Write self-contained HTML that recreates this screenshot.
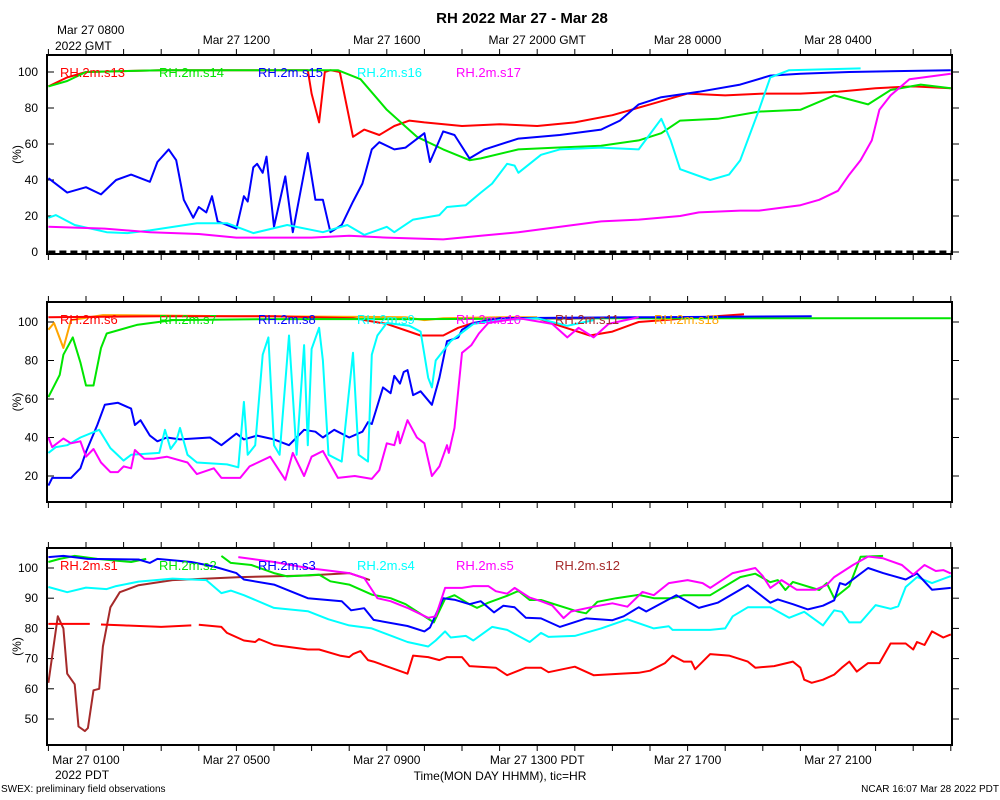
<!DOCTYPE html>
<html><head><meta charset="utf-8"><style>
html,body{margin:0;padding:0;background:#fff;}
svg{display:block;font-family:"Liberation Sans",sans-serif;}
</style></head><body>
<svg id="chart" width="1000" height="800" viewBox="0 0 1000 800">
<text x="522" y="23" text-anchor="middle" font-size="15" font-weight="bold">RH 2022 Mar 27 - Mar 28</text>
<text x="57" y="34" font-size="12">Mar 27 0800</text>
<text x="55" y="50" font-size="12">2022 GMT</text>
<text x="55" y="779" font-size="12">2022 PDT</text>
<text x="500" y="780" text-anchor="middle" font-size="12">Time(MON DAY HHMM), tic=HR</text>
<text x="1" y="792" font-size="10">SWEX: preliminary field observations</text>
<text x="999" y="792" font-size="10" text-anchor="end">NCAR 16:07 Mar 28 2022 PDT</text>
</svg>
<script>
// ---- data (t = hours since Mar 27 0700 GMT, v = RH %) ----
const topTickLabels = ["Mar 27 1200","Mar 27 1600","Mar 27 2000 GMT","Mar 28 0000","Mar 28 0400"];
const topTickHours = [5,9,13,17,21];
const bottomTickLabels = ["Mar 27 0100","Mar 27 0500","Mar 27 0900","Mar 27 1300 PDT","Mar 27 1700","Mar 27 2100"];
const bottomTickHours = [1,5,9,13,17,21];
const p1Ticks = [0,20,40,60,80,100];
const p2Ticks = [20,40,60,80,100];
const p3Ticks = [50,60,70,80,90,100];

// Panel 1
const s13T = [0,0.5,1,3,5,6.9,7.0,7.2,7.35,7.5,7.75,8.1,8.4,8.8,9.2,9.6,10,11,12,13,14,15,16,17,18,19,20,21,22,23,24];
const s13V = [92,97,100,101,101,101,88,72,100,101,100,64,68,65,70,73,72,70,71,70,72,76,82,88,87,88,88,89,91,92,91];
const s14T = [0,0.5,1,3,5,7,7.7,8.3,9,9.8,10.5,11.2,11.5,12.5,13.5,14.7,15.7,16.3,16.8,17.8,18.9,20,20.9,21.8,22.4,23.2,24];
const s14V = [92,95,100,101,101,101,101,96,79,64,57,51,52,57,58,59,62,66,73,74,78,79,87,82,90,93,91];
const s15T = [0,0.5,1,1.4,1.8,2.2,2.7,2.9,3.2,3.4,3.6,3.85,4.0,4.2,4.35,4.5,5.0,5.2,5.3,5.45,5.55,5.7,5.8,6.0,6.3,6.5,6.9,7.1,7.3,7.5,7.8,8.1,8.35,8.6,8.8,9.2,9.5,10,10.15,10.5,10.8,11.2,11.6,12.5,13.6,14.7,15.2,15.7,16.3,17.3,18.4,19.2,20,21.3,24];
const s15V = [41,33,36,32,40,43,39,50,57,51,29,19,25,22,31,17,13,31,28,47,49,44,53,14,42,11,55,29,29,11,15,28,38,57,61,57,58,66,50,67,65,52,57,63,65,68,73,82,86,89,93,98,99,100,101];
const s16T = [0,0.2,0.7,1.55,2.1,2.7,3.95,4.75,5.45,6.35,7.3,7.95,8.4,9,9.2,9.7,10.4,10.6,11.1,11.5,11.8,12.2,12.4,12.5,13.1,13.6,14.7,15.7,16.3,16.55,16.8,17.6,18.1,18.4,18.9,19.2,19.7,21.6];
const s16V = [19,20.5,15,11,10.5,12,16,16,10.5,15,11,15,9.5,14,11,18,20.5,25,26,33,38,49,48,44,54,57,58,57,74,62,46,40,43,51,79,97,101,102];
const s17T = [0,1.5,2.7,4,5,7,8,9,10.5,11.5,12.5,14.7,15.7,16.8,17.3,18.4,18.9,20,20.5,21,21.3,21.6,21.9,22.1,22.4,22.9,24];
const s17V = [14,13,11,10,8,8,9,8,7,9,11,17,18,20,22,23,23,26,29,34,43,51,62,79,87,96,99];
const refZeroT = [0,24];
const refZeroV = [0,0];

// Panel 2
const s6T = [0,3,6,8.1,9,9.9,10.5,10.9,11.3,12,13,13.6,14.4,15,15.7,17,18.5];
const s6V = [102.5,103,103,102,99,93,93,97,99.5,101,102,98,93,95,100,102,104];
const s7T = [0,0.3,0.4,0.65,0.85,1.0,1.2,1.4,1.55,2.35,3.3,6,10,15,24];
const s7V = [61,72.5,83,92,79,67,67,86.5,94,98.5,101,101.5,101.5,102,102];
const s8T = [0,0.1,0.6,0.85,1.0,1.3,1.5,1.85,2.2,2.3,2.45,2.7,2.9,3.15,3.5,4.3,4.6,5.0,5.2,5.55,6,6.4,6.8,7.1,7.3,7.6,8.0,8.35,8.5,8.6,8.9,9.1,9.2,9.35,9.45,9.55,9.7,9.9,10.2,10.4,10.6,10.9,11.0,11.3,12,16,20.3];
const s8V = [15,19,19,24,32.5,46.5,57,58,55,46.5,49,41,38,40,39,40,36,42,39,41,39,36,44,43,40,44,40,43,48,47,66,63,72,68,74,75,62,64,57,71,90,92,96,99.5,102,102.5,103];
const s9T = [0,0.2,0.5,0.85,1.35,1.65,2.0,2.2,2.95,3.1,3.25,3.4,3.5,3.7,3.95,4.75,5.05,5.2,5.3,5.5,5.7,5.85,6.0,6.15,6.4,6.6,6.8,6.9,7.0,7.2,7.3,7.45,7.8,8.1,8.25,8.5,8.6,8.75,9.0,9.6,9.9,10.1,10.2,10.3,10.7,11.3,12,13,13.8,14.5];
const s9V = [32,35,36,40,44,34.5,28,31,32,44,34,38,45,31,27,26,24.5,58.5,31,36,83,92,36,31,93,31,88,36,86,97,80,31,27.5,84,31,27.5,83,93,99.5,98,95,71,66,80,90,99,101,102,98,101];
const s10T = [0,0.1,0.4,0.6,0.85,1.0,1.2,1.4,1.65,1.85,2.0,2.2,2.3,2.55,2.8,3.15,3.7,3.95,4.4,4.6,5.1,5.35,5.9,6.3,6.5,6.8,7.0,7.3,7.7,8.15,8.6,8.8,9.0,9.2,9.3,9.35,9.55,9.8,10.0,10.2,10.4,10.6,10.65,10.8,11.0,11.25,11.45,11.7,12.5,13.4,13.8,14.1,14.5,14.9,15.7];
const s10V = [40,35,39.5,37,38,30,34,27,22,22,25,24,33.5,29,29,30,27,21,24,19,19,25,30,18,32,20,30,33,19,20,18.5,23,37,36,43,37,49,40,37,20,25,36,32,45,84,88,94,99.5,102,99,92,97,92,99,102.5];
const s11T = [12,13,14.5];
const s11V = [102,102,102];
const s18T = [0,0.15,0.4,0.6,1.45,5,9.5,10,10.5,12,13];
const s18V = [96,99.5,86.5,101,103.6,103,102.5,101,102,102.5,102.5];

// Panel 3
const s1T = [0,1.1,1.1,1.4,2,3,3.8,3.8,4.0,4.6,4.75,5.2,5.5,5.6,6,6.9,7.2,7.75,8.0,8.1,8.3,8.5,8.65,9.1,9.55,9.7,10.1,10.4,10.6,11.0,11.2,11.9,12.2,12.7,13.1,13.3,14.0,14.5,15.2,15.7,16.0,16.4,16.6,16.9,17.1,17.2,17.6,18.1,18.6,18.8,19.3,19.8,20,20.1,20.3,20.6,20.9,21.1,21.3,21.5,21.8,22.1,22.4,22.8,23,23.1,23.3,23.5,23.8,24];
const s1V = [81.5,81.5,null,81.3,81,80.5,81,null,81.2,80.5,78.5,76,75.5,76.5,74.5,73,73,71,70.5,71.5,72.5,69.5,69,67,65,71,70.5,69.5,70.5,70.5,67.5,67,64.5,67,67,65.5,67.3,64.5,65,65.3,66,68.5,71,69,69,66.5,71.5,71,69,67,67.5,69,67,63,62,63,64.7,67,69,65.7,68.5,68.5,75,75,73,75.5,74.5,79,77,78];
const s2T = [0,0.3,0.7,1.3,2.2,2.6,2.6,4.6,4.85,5.4,6,6.35,7.2,7.5,8,8.6,9.1,9.5,10.25,10.55,10.8,11.2,11.4,11.7,12.2,12.5,12.8,13.1,14.1,14.3,14.6,15.1,15.7,16.1,16.6,16.9,17.6,18.4,18.8,19.2,19.4,19.6,19.8,20.5,20.7,20.9,21.3,21.6,22.2];
const s2V = [102,103,104,103,102,103,null,104,101.7,101,98.3,97.2,97.8,95.6,94.5,91.2,90,88,82,89.8,91,88,86.8,88.5,90.8,92.4,89.4,89.4,85.5,85,88.8,90,91.1,90,90,91,91,97,98.1,95.3,96,92.7,95.4,92.7,95,90,94,103.7,104];
const s3T = [0,0.4,1.05,2.4,2.7,2.9,3.8,4.4,5.0,5.2,6,6.9,7.8,8.05,8.4,8.65,9.55,10,10.15,10.5,10.8,11.2,11.5,11.85,12.1,12.4,12.7,13.1,13.6,14.3,15.0,15.3,15.7,15.9,16.7,17.3,17.8,18.6,19.2,19.4,19.8,20.2,20.6,20.9,21.05,21.2,21.8,22.2,22.8,23.1,23.5,24];
const s3V = [103.6,104,103,102.8,101.7,103,102,100.5,98.3,96.2,94.5,90,89,86,86.7,82.8,80.8,79,80.3,90,89.5,88,89,85.3,87.5,87,83.5,83.3,80.5,83.3,82.7,84,87,85.6,91,86.8,88.5,94.3,88.5,89.6,88,86.3,87.5,89.3,95,94.4,100,98.3,96.2,98.2,92.8,93.4];
const s4T = [0,0.5,1.0,1.55,1.8,2.4,3.3,4.2,4.6,4.85,5.2,6,6.9,7.45,8.0,8.6,9.55,10.1,10.3,10.55,10.7,11.1,11.3,11.8,12.2,12.8,13.1,13.3,14.0,14.7,15.4,16.1,16.5,16.6,17.6,18,18.2,18.6,19.2,19.7,20.1,20.6,20.9,21.1,21.3,21.6,22.0,22.4,22.6,22.8,23.1,23.5,24];
const s4V = [93.7,92,93.5,93,94,95.5,96.5,96,91.7,92.5,91,86.8,85.7,83,81,80,75.5,74,76,79,77,77.5,76,80.5,79.5,75.5,78.5,77.2,77.5,80,83,80,80.7,79.5,79.5,80,84,87,87,83.5,85.5,81,86,85.5,82,82,87.7,86.5,87.3,93.7,97,95,97.3];
const s5T = [5.05,6,6.9,8,8.4,8.75,9.1,9.55,10.1,10.3,10.55,11,11.3,11.7,11.9,12.2,12.4,12.8,13.1,13.4,13.7,13.9,14.5,15,15.4,15.8,16.1,16.5,17,17.4,17.6,18.2,18.8,19.0,19.2,19.5,19.9,20.4,20.7,20.9,21.4,21.8,22.2,22.7,23,23.3,23.6,23.8,24];
const s5V = [103.6,102,100,98.3,96.7,90,89,86.8,83.5,84,93.4,93.4,94,94,92.3,91.5,93.4,90.2,89,87.6,83.4,85.6,87.2,88.3,87.2,92.1,91,95,96,95,93.4,98.3,100,97.3,93.4,96,92.8,92.8,94.4,97,101,103.8,103.2,101,97.8,101,99,99.3,98.2];
const s12T = [0,0.25,0.4,0.5,0.7,0.8,0.97,1.05,1.2,1.35,1.45,1.65,1.9,2.4,3.3,5.1,6.9,8.0,8.55];
const s12V = [62,84,80,65,61.5,47.5,46,47,59.5,60,74,87,92,94.3,96,97,97.5,98.3,96];

// ---- layout ----
const X0 = 47, X1 = 952;
function xOf(t){ return 48.4 + t*37.6; }
const panels = [
  {name:"panel-top", top:55, bot:254, vmin:-1.11, vmax:109.44, ticks:p1Ticks},
  {name:"panel-middle", top:302, bot:502, vmin:6.49, vmax:110.39, ticks:p2Ticks},
  {name:"panel-bottom", top:548, bot:745, vmin:41.39, vmax:106.62, ticks:p3Ticks}
];
function yOf(p,v){ return p.top + (p.vmax - v)/(p.vmax - p.vmin)*(p.bot - p.top); }

const NS = "http://www.w3.org/2000/svg";
const svg = document.getElementById("chart");
function mk(tag, attrs, parent){
  const e = document.createElementNS(NS, tag);
  for (const k in attrs) e.setAttribute(k, attrs[k]);
  (parent||svg).appendChild(e);
  return e;
}

const series = [
  [0, "s13", s13T, s13V, "#ff0000"],
  [0, "s14", s14T, s14V, "#00e600"],
  [0, "s15", s15T, s15V, "#0000ff"],
  [0, "s16", s16T, s16V, "#00ffff"],
  [0, "s17", s17T, s17V, "#ff00ff"],
  [1, "s18", s18T, s18V, "#ffa500"],
  [1, "s6", s6T, s6V, "#ff0000"],
  [1, "s7", s7T, s7V, "#00e600"],
  [1, "s11", s11T, s11V, "#a52a2a"],
  [1, "s8", s8T, s8V, "#0000ff"],
  [1, "s9", s9T, s9V, "#00ffff"],
  [1, "s10", s10T, s10V, "#ff00ff"],
  [2, "s12", s12T, s12V, "#a52a2a"],
  [2, "s1", s1T, s1V, "#ff0000"],
  [2, "s4", s4T, s4V, "#00ffff"],
  [2, "s2", s2T, s2V, "#00e600"],
  [2, "s3", s3T, s3V, "#0000ff"],
  [2, "s5", s5T, s5V, "#ff00ff"]
];
const legends = [
  [0,["s13","s14","s15","s16","s17"],["#ff0000","#00e600","#0000ff","#00ffff","#ff00ff"]],
  [1,["s6","s7","s8","s9","s10","s11","s18"],["#ff0000","#00e600","#0000ff","#00ffff","#ff00ff","#a52a2a","#ffa500"]],
  [2,["s1","s2","s3","s4","s5","s12"],["#ff0000","#00e600","#0000ff","#00ffff","#ff00ff","#a52a2a"]]
];

panels.forEach((p,pi)=>{
  const g = mk("g",{});
  
  
  p.ticks.forEach(v=>{
    const y = yOf(p,v);
    const tl = mk("line",{x1:X0,x2:X0+7,y1:y,y2:y,stroke:"#000","stroke-width":1},g);
    
    
    const tr = mk("line",{x1:X1,x2:X1+7,y1:y,y2:y,stroke:"#000","stroke-width":1},g);
    
    
    const lb = mk("text",{x:38,y:y+4,"text-anchor":"end","font-size":12},g);
    lb.textContent = v;
    
    
  });
  for (let h=0; h<=24; h++){
    const x = xOf(h);
    if (x < X0 || x > X1) continue;
    const t1 = mk("line",{x1:x,x2:x,y1:p.top-6,y2:p.top,stroke:"#000","stroke-width":1},g);
    
    
    const t2 = mk("line",{x1:x,x2:x,y1:p.bot,y2:p.bot+6,stroke:"#000","stroke-width":1},g);
    
    
  }
  const yt = mk("text",{x:0,y:0,"font-size":12,"text-anchor":"middle",transform:`translate(21,${(p.top+p.bot)/2}) rotate(-90)`},g);
  yt.textContent = "(%)";
  
  
  const cp = mk("clipPath",{id:"clip"+pi},g);
  mk("rect",{x:X0,y:p.top,width:X1-X0,height:p.bot-p.top},cp);
});

{
  const p = panels[0];
  const zl = mk("line",{x1:xOf(refZeroT[0]),x2:xOf(refZeroT[1]),y1:yOf(p,refZeroV[0]),y2:yOf(p,refZeroV[1]),stroke:"#000","stroke-width":3,"stroke-dasharray":"7 4","clip-path":"url(#clip0)"});
  
  
}

series.forEach(s=>{
  const p = panels[s[0]];
  let d = "", pen = false;
  for (let i=0;i<s[2].length;i++){
    const v = s[3][i];
    if (v === null){ pen = false; continue; }
    d += (pen ? "L" : "M") + xOf(s[2][i]).toFixed(1) + " " + yOf(p,v).toFixed(1) + " ";
    pen = true;
  }
  const path = mk("path",{d:d,fill:"none",stroke:s[4],"stroke-width":2,"stroke-linejoin":"round","clip-path":"url(#clip"+s[0]+")"});
  
  
});

legends.forEach(L=>{
  const p = panels[L[0]];
  L[1].forEach((nm,i)=>{
    const t = mk("text",{x:60+i*99,y:p.top+22,"font-size":13,fill:L[2][i]});
    t.textContent = "RH.2m." + nm;
    
    
  });
});

panels.forEach(p=>{
  const r = mk("rect",{x:X0,y:p.top,width:X1-X0,height:p.bot-p.top,fill:"none",stroke:"#000","stroke-width":2});
  
  
});

topTickLabels.forEach((s,i)=>{
  const t = mk("text",{x:xOf(topTickHours[i]),y:44,"font-size":12,"text-anchor":"middle"});
  t.textContent = s;
  
  
});
bottomTickLabels.forEach((s,i)=>{
  const t = mk("text",{x:xOf(bottomTickHours[i]),y:764,"font-size":12,"text-anchor":"middle"});
  t.textContent = s;
  
  
});
</script>
</body></html>
